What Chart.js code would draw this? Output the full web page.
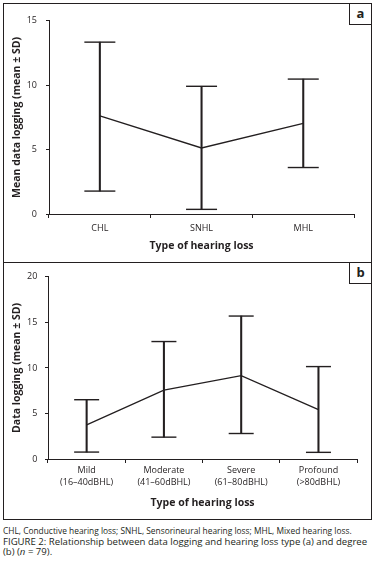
<!DOCTYPE html>
<html>
<head>
<meta charset="utf-8">
<script src="https://cdn.jsdelivr.net/npm/chart.js@4"></script>
<style>
  body { margin: 0; background: #fff; font-family: 'Open Sans', sans-serif; color: #231f20; }
  .panel { position: absolute; left: 3px; width: 367px; border: 1px solid #231f20; }
  #pa { top: 3px; height: 258px; }
  #pb { top: 262px; height: 256px; }
  .panel canvas { position: absolute; left: 0; top: 0; }
  .tag { position: absolute; right: 0; top: 0; width: 21px; height: 20px; border-left: 1px solid #231f20;
         border-bottom: 1px solid #231f20; font-weight: bold; font-size: 13px; line-height: 19px; text-align: center;
         background: #fff; z-index: 2; }
  .cap { position: absolute; left: 3px; white-space: nowrap; line-height: 10px; }
  #c1 { top: 526px; font-size: 8.4px; }
  #c2 { top: 537px; font-size: 9.6px; line-height: 10px; }
</style>
</head>
<body>
<div class="panel" id="pa"><canvas id="ch_a" width="367" height="258"></canvas><div class="tag">a</div></div>
<div class="panel" id="pb"><canvas id="ch_b" width="367" height="256"></canvas><div class="tag">b</div></div>
<div class="cap" id="c1">CHL, Conductive hearing loss; SNHL, Sensorineural hearing loss; MHL, Mixed hearing loss.</div>
<div class="cap" id="c2">FIGURE 2: Relationship between data logging and hearing loss type (a) and degree<br>(b) (<i>n</i> = 79).</div>
<script>
/* panel a — hearing loss type */
const typeLabels = ['CHL', 'SNHL', 'MHL'];
const typeMean   = [7.63, 5.13, 7.04];
const typeUpper  = [13.35, 9.92, 10.48];
const typeLower  = [1.78, 0.36, 3.61];

/* panel b — hearing loss degree */
const degLabels = [['Mild', '(16\u201340dBHL)'], ['Moderate', '(41\u201360dBHL)'], ['Severe', '(61\u201380dBHL)'], ['Profound', '(>80dBHL)']];
const degMean   = [3.75, 7.56, 9.16, 5.42];
const degUpper  = [6.51, 12.9, 15.7, 10.15];
const degLower  = [0.76, 2.4, 2.8, 0.73];

const INK = '#231f20';
Chart.defaults.font.family = "'Open Sans', sans-serif";
Chart.defaults.color = INK;

function drawPanel(id, labels, mean, upper, lower, cfg) {
  const canvas = document.getElementById(id);
  return new Chart(canvas.getContext('2d'), {
    data: {
      labels: labels,
      datasets: [
        { type: 'line', data: mean, borderColor: INK, borderWidth: 1.3, pointRadius: 0, fill: false, order: 0 },
        { type: 'bar', data: lower.map((v, i) => [v, upper[i]]), backgroundColor: INK, barThickness: 1.4, order: 1 },
        { type: 'line', data: upper, showLine: false, pointStyle: 'line', pointRadius: cfg.capR,
          pointBorderWidth: 1.4, borderColor: INK, order: 1 },
        { type: 'line', data: lower, showLine: false, pointStyle: 'line', pointRadius: cfg.capR,
          pointBorderWidth: 1.4, borderColor: INK, order: 1 }
      ]
    },
    options: {
      responsive: false,
      animation: false,
      events: [],
      layout: { padding: { top: cfg.top, right: 9, left: 0, bottom: 0 } },
      plugins: { legend: { display: false }, tooltip: { enabled: false } },
      scales: {
        x: {
          offset: true,
          grid: { display: true, offset: true, drawOnChartArea: false, drawTicks: true, tickLength: 4, color: INK },
          border: { display: true, color: INK, width: 1 },
          ticks: { font: { size: 9, lineHeight: 1.35 }, padding: cfg.xPad, maxRotation: 0, autoSkip: false },
          title: { display: true, text: 'Type of hearing loss', font: { size: 10.5, weight: 'bold' }, padding: { bottom: 10 } },
          afterFit: s => { s.height = cfg.xH; }
        },
        y: {
          min: 0, max: cfg.yMax,
          grid: { display: true, drawOnChartArea: false, drawTicks: true, tickLength: 3, color: INK },
          border: { display: true, color: INK, width: 1 },
          ticks: { stepSize: 5, font: { size: 9 }, padding: cfg.yPad },
          title: { display: true, text: cfg.yTitle, font: { size: 10.5, weight: 'bold' }, padding: { top: 7 } },
          afterFit: s => { s.width = cfg.yW; }
        }
      }
    }
  });
}

drawPanel('ch_a', typeLabels, typeMean, typeUpper, typeLower,
  { capR: 15.5, top: 13.3, xH: 48, yW: 45, yMax: 15, xPad: 4.6, yPad: 9, yTitle: 'Mean data logging (mean \u00b1 SD)' });
drawPanel('ch_b', degLabels, degMean, degUpper, degLower,
  { capR: 12.5, top: 13, xH: 60, yW: 44, yMax: 20, xPad: 1.5, yPad: 7.7, yTitle: 'Data logging (mean \u00b1 SD)' });
</script>
</body>
</html>
